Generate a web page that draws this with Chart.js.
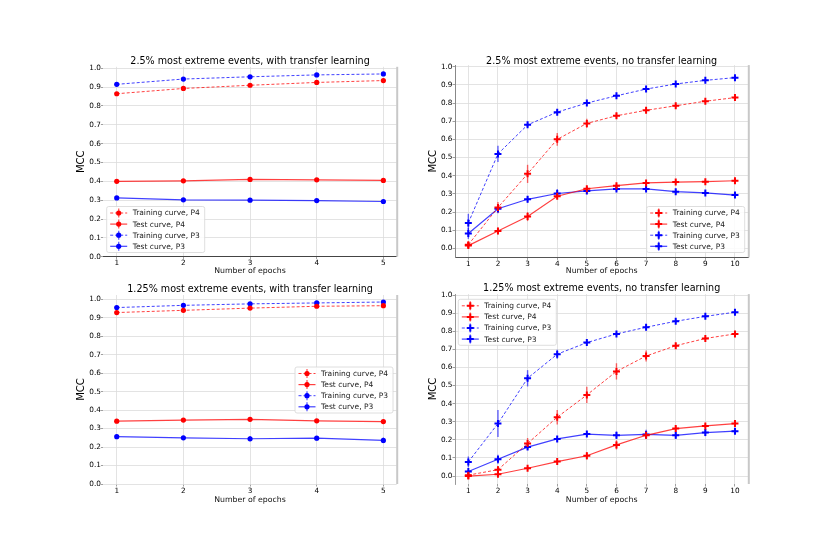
<!DOCTYPE html>
<html>
<head>
<meta charset="utf-8">
<script src="https://cdn.jsdelivr.net/npm/chart.js@4.4.0/dist/chart.umd.min.js"></script>
<style>
html,body{margin:0;padding:0;background:#fff;}
body{width:831px;height:554px;position:relative;overflow:hidden;}
.panel{position:absolute;}
</style>
</head>
<body>
<div class="panel" id="p1"><canvas id="c1"></canvas></div>
<div class="panel" id="p2"><canvas id="c2"></canvas></div>
<div class="panel" id="p3"><canvas id="c3"></canvas></div>
<div class="panel" id="p4"><canvas id="c4"></canvas></div>
<script>
// ---- data ----
const epochs5 = [1,2,3,4,5];
const epochs10 = [1,2,3,4,5,6,7,8,9,10];
const yTicks = [0,0.1,0.2,0.3,0.4,0.5,0.6,0.7,0.8,0.9,1.0];
const seriesLabels = ['Training curve, P4','Test curve, P4','Training curve, P3','Test curve, P3'];
const titles = [
  '2.5% most extreme events, with transfer learning',
  '2.5% most extreme events, no transfer learning',
  '1.25% most extreme events, with transfer learning',
  '1.25% most extreme events, no transfer learning'
];

// 2.5%, with transfer learning
const a_trainP4 = [0.865,0.893,0.910,0.925,0.935];
const a_testP4  = [0.400,0.403,0.410,0.408,0.405];
const a_trainP3 = [0.915,0.943,0.955,0.965,0.970];
const a_testP3  = [0.312,0.302,0.300,0.298,0.293];
const a_trainP4Err = [0.006,0.005,0.005,0.005,0.005];
const a_testP4Err  = [0.006,0.006,0.008,0.008,0.007];
const a_trainP3Err = [0.004,0.004,0.004,0.004,0.004];
const a_testP3Err  = [0.006,0.005,0.005,0.005,0.006];

// 2.5%, no transfer learning
const b_trainP4 = [0.020,0.225,0.410,0.600,0.688,0.730,0.760,0.785,0.810,0.830];
const b_testP4  = [0.015,0.095,0.175,0.287,0.328,0.345,0.360,0.365,0.367,0.372];
const b_trainP3 = [0.140,0.520,0.680,0.750,0.800,0.840,0.877,0.905,0.925,0.940];
const b_testP3  = [0.082,0.218,0.270,0.302,0.316,0.327,0.327,0.312,0.305,0.293];
const b_trainP4Err = [0.015,0.030,0.050,0.035,0.025,0.015,0.012,0.010,0.010,0.008];
const b_testP4Err  = [0.010,0.018,0.025,0.015,0.012,0.010,0.008,0.008,0.008,0.008];
const b_trainP3Err = [0.050,0.045,0.012,0.010,0.008,0.008,0.008,0.006,0.006,0.006];
const b_testP3Err  = [0.030,0.025,0.018,0.025,0.015,0.012,0.012,0.012,0.010,0.010];

// 1.25%, with transfer learning
const c_trainP4 = [0.928,0.940,0.952,0.962,0.965];
const c_testP4  = [0.340,0.346,0.350,0.342,0.338];
const c_trainP3 = [0.955,0.967,0.975,0.980,0.985];
const c_testP3  = [0.256,0.250,0.245,0.248,0.236];
const c_trainP4Err = [0.006,0.006,0.006,0.006,0.006];
const c_testP4Err  = [0.006,0.008,0.010,0.008,0.010];
const c_trainP3Err = [0.005,0.005,0.008,0.006,0.006];
const c_testP3Err  = [0.010,0.010,0.015,0.012,0.015];

// 1.25%, no transfer learning
const d_trainP4 = [0.005,0.035,0.180,0.325,0.448,0.578,0.663,0.720,0.760,0.785];
const d_testP4  = [0.000,0.010,0.043,0.080,0.112,0.172,0.225,0.262,0.277,0.290];
const d_trainP3 = [0.078,0.290,0.540,0.673,0.737,0.785,0.822,0.855,0.882,0.905];
const d_testP3  = [0.025,0.093,0.160,0.205,0.232,0.225,0.230,0.225,0.240,0.248];
const d_trainP4Err = [0.010,0.020,0.030,0.040,0.045,0.045,0.030,0.015,0.010,0.010];
const d_testP4Err  = [0.005,0.010,0.010,0.010,0.020,0.025,0.020,0.015,0.012,0.015];
const d_trainP3Err = [0.030,0.075,0.045,0.025,0.012,0.010,0.010,0.008,0.008,0.006];
const d_testP3Err  = [0.010,0.025,0.015,0.015,0.015,0.020,0.025,0.020,0.020,0.015];

const FONT = '"DejaVu Sans", sans-serif';
const RED = '#ff0000', BLUE = '#0000ff';

// vertical error bars, drawn under the markers
const errorBars = {
  id: 'errorBars',
  beforeDatasetsDraw(chart) {
    const {ctx, scales: {x, y}} = chart;
    chart.data.datasets.forEach(ds => {
      ctx.save();
      ctx.strokeStyle = ds.errColor;
      ctx.lineWidth = 1.4;
      ds.data.forEach((p, i) => {
        const px = x.getPixelForValue(p.x);
        ctx.beginPath();
        ctx.moveTo(px, y.getPixelForValue(p.y - ds.errors[i]));
        ctx.lineTo(px, y.getPixelForValue(p.y + ds.errors[i]));
        ctx.stroke();
      });
      ctx.restore();
    });
  }
};

function drawMarker(ctx, style, cx, cy, color) {
  ctx.fillStyle = color; ctx.strokeStyle = color;
  if (style === 'cross') {
    ctx.lineWidth = 2;
    ctx.beginPath();
    ctx.moveTo(cx - 3.5, cy); ctx.lineTo(cx + 3.5, cy);
    ctx.moveTo(cx, cy - 3.5); ctx.lineTo(cx, cy + 3.5);
    ctx.stroke();
  } else {
    ctx.beginPath(); ctx.arc(cx, cy, 2.6, 0, Math.PI * 2); ctx.fill();
  }
}

// title, light right edge and legend box
const decor = {
  id: 'decor',
  afterDraw(chart, args, opts) {
    const {ctx, chartArea: a} = chart;
    ctx.save();
    ctx.strokeStyle = '#c8c8c8'; ctx.lineWidth = 2;
    ctx.beginPath(); ctx.moveTo(a.right + 0.5, a.top); ctx.lineTo(a.right + 0.5, a.bottom); ctx.stroke();

    ctx.fillStyle = '#000';
    ctx.font = '9.6px ' + FONT;
    ctx.textAlign = 'center'; ctx.textBaseline = 'middle';
    ctx.fillText(opts.title, (a.left + a.right) / 2, opts.titleY);

    const lx = opts.legendX, ly = opts.legendY, lw = 98, lh = 46;
    ctx.fillStyle = 'rgba(255,255,255,0.85)';
    ctx.strokeStyle = '#d6d6d6'; ctx.lineWidth = 0.8;
    ctx.beginPath(); ctx.roundRect(lx, ly, lw, lh, 2); ctx.fill(); ctx.stroke();
    ctx.font = '7.5px ' + FONT;
    ctx.textAlign = 'left';
    chart.data.datasets.forEach((ds, i) => {
      const cy = ly + 6.5 + i * 11.1;
      ctx.strokeStyle = ds.borderColor; ctx.lineWidth = ds.borderWidth;
      ctx.setLineDash(ds.borderDash || []);
      ctx.beginPath(); ctx.moveTo(lx + 3.5, cy); ctx.lineTo(lx + 20.5, cy); ctx.stroke();
      ctx.setLineDash([]);
      ctx.strokeStyle = ds.errColor; ctx.lineWidth = 1.4;
      ctx.beginPath(); ctx.moveTo(lx + 12, cy - 4.5); ctx.lineTo(lx + 12, cy + 4.5); ctx.stroke();
      drawMarker(ctx, ds.pointStyle, lx + 12, cy, ds.pointBackgroundColor);
      ctx.fillStyle = '#222';
      ctx.fillText(ds.label, lx + 26, cy + 0.5);
    });
    ctx.restore();
  }
};

function makeSeries(xs, vals, errs, i, marker) {
  const red = i < 2;
  const train = i % 2 === 0;
  return {
    label: seriesLabels[i],
    data: xs.map((x, k) => ({x: x, y: vals[k]})),
    errors: errs,
    borderColor: red ? 'rgba(255,0,0,0.75)' : 'rgba(0,0,255,0.75)',
    errColor: red ? 'rgba(255,0,0,0.6)' : 'rgba(0,0,255,0.6)',
    borderWidth: train ? 1 : 1.2,
    borderDash: train ? [3, 2] : [],
    pointStyle: marker,
    pointRadius: marker === 'cross' ? 3.5 : 2.6,
    pointBorderWidth: marker === 'cross' ? 2 : 0,
    pointBackgroundColor: red ? RED : BLUE,
    pointBorderColor: red ? RED : BLUE,
    tension: 0,
    fill: false
  };
}

function makePanel(n, p) {
  const box = document.getElementById('p' + n);
  box.style.left = p.L + 'px'; box.style.top = p.T + 'px';
  box.style.width = p.W + 'px'; box.style.height = p.H + 'px';
  const gridOpts = {color: '#dcdcdc', lineWidth: 0.8, tickColor: '#888', tickWidth: 0.8, tickLength: 2.5};
  new Chart(document.getElementById('c' + n), {
    type: 'line',
    data: {datasets: p.series},
    options: {
      responsive: true, maintainAspectRatio: false, animation: false,
      layout: {padding: {top: p.area.top - p.T, right: p.L + p.W - p.area.right, left: 0, bottom: 0}},
      plugins: {
        legend: {display: false}, tooltip: {enabled: false},
        decor: {title: p.title, titleY: p.titleY - p.T, legendX: p.legend[0] - p.L, legendY: p.legend[1] - p.T}
      },
      scales: {
        x: {
          type: 'linear', min: p.xMin, max: p.xMax,
          afterBuildTicks: s => { s.ticks = p.xTicks.map(v => ({value: v})); },
          afterFit: s => { s.height = p.T + p.H - p.area.bottom; },
          ticks: {font: {family: FONT, size: 7.3}, color: '#000', padding: 0, maxRotation: 0, callback: v => String(v)},
          grid: gridOpts,
          border: {display: !!p.xSpine, color: p.xSpine || '#000', width: 1},
          title: {display: true, text: 'Number of epochs', color: '#111',
                  font: {family: FONT, size: 7.8, lineHeight: 1.2},
                  padding: {top: 0, bottom: p.T + p.H - p.xlabelY - 4.7}}
        },
        y: {
          min: p.yMin, max: p.yMax,
          afterBuildTicks: s => { s.ticks = yTicks.map(v => ({value: v})); },
          afterFit: s => { s.width = p.area.left - p.L; },
          ticks: {font: {family: FONT, size: 7.3}, color: '#000', padding: 0, callback: v => v.toFixed(1)},
          grid: gridOpts,
          border: {display: !!p.ySpine, color: p.ySpine || '#000', width: 1},
          title: {display: true, text: 'MCC', color: '#000',
                  font: {family: FONT, size: 10, lineHeight: 1.2},
                  padding: {top: p.ylabelX - p.L - 6, bottom: 0}}
        }
      }
    },
    plugins: [errorBars, decor]
  });
}

makePanel(1, {
  L: 60, T: 40, W: 350, H: 240,
  area: {left: 103.4, top: 66.8, right: 396.7, bottom: 256.7},
  xMin: 0.8, xMax: 5.2, yMin: 0, yMax: 1.008, xTicks: epochs5,
  xSpine: '#444', ySpine: null,
  title: titles[0], titleY: 61, ylabelX: 81.7, xlabelY: 271,
  legend: [106.7, 206.5],
  series: [
    makeSeries(epochs5, a_trainP4, a_trainP4Err, 0, 'circle'),
    makeSeries(epochs5, a_testP4, a_testP4Err, 1, 'circle'),
    makeSeries(epochs5, a_trainP3, a_trainP3Err, 2, 'circle'),
    makeSeries(epochs5, a_testP3, a_testP3Err, 3, 'circle')
  ]
});

makePanel(2, {
  L: 412, T: 40, W: 350, H: 240,
  area: {left: 455, top: 65.1, right: 748.3, bottom: 257.4},
  xMin: 0.55, xMax: 10.45, yMin: -0.05, yMax: 1.009, xTicks: epochs10,
  xSpine: '#555', ySpine: '#888',
  title: titles[1], titleY: 61, ylabelX: 433.3, xlabelY: 271,
  legend: [646.7, 206.5],
  series: [
    makeSeries(epochs10, b_trainP4, b_trainP4Err, 0, 'cross'),
    makeSeries(epochs10, b_testP4, b_testP4Err, 1, 'cross'),
    makeSeries(epochs10, b_trainP3, b_trainP3Err, 2, 'cross'),
    makeSeries(epochs10, b_testP3, b_testP3Err, 3, 'cross')
  ]
});

makePanel(3, {
  L: 60, T: 275, W: 350, H: 235,
  area: {left: 103.4, top: 295, right: 396.7, bottom: 484},
  xMin: 0.8, xMax: 5.2, yMin: 0, yMax: 1.023, xTicks: epochs5,
  xSpine: null, ySpine: null,
  title: titles[2], titleY: 289.3, ylabelX: 81.7, xlabelY: 500,
  legend: [295, 367],
  series: [
    makeSeries(epochs5, c_trainP4, c_trainP4Err, 0, 'circle'),
    makeSeries(epochs5, c_testP4, c_testP4Err, 1, 'circle'),
    makeSeries(epochs5, c_trainP3, c_trainP3Err, 2, 'circle'),
    makeSeries(epochs5, c_testP3, c_testP3Err, 3, 'circle')
  ]
});

makePanel(4, {
  L: 412, T: 275, W: 350, H: 235,
  area: {left: 455, top: 294.1, right: 748.3, bottom: 484},
  xMin: 0.55, xMax: 10.45, yMin: -0.044, yMax: 1.005, xTicks: epochs10,
  xSpine: null, ySpine: '#999',
  title: titles[3], titleY: 288.3, ylabelX: 433.3, xlabelY: 500,
  legend: [458.3, 299.3],
  series: [
    makeSeries(epochs10, d_trainP4, d_trainP4Err, 0, 'cross'),
    makeSeries(epochs10, d_testP4, d_testP4Err, 1, 'cross'),
    makeSeries(epochs10, d_trainP3, d_trainP3Err, 2, 'cross'),
    makeSeries(epochs10, d_testP3, d_testP3Err, 3, 'cross')
  ]
});
</script>
</body>
</html>
